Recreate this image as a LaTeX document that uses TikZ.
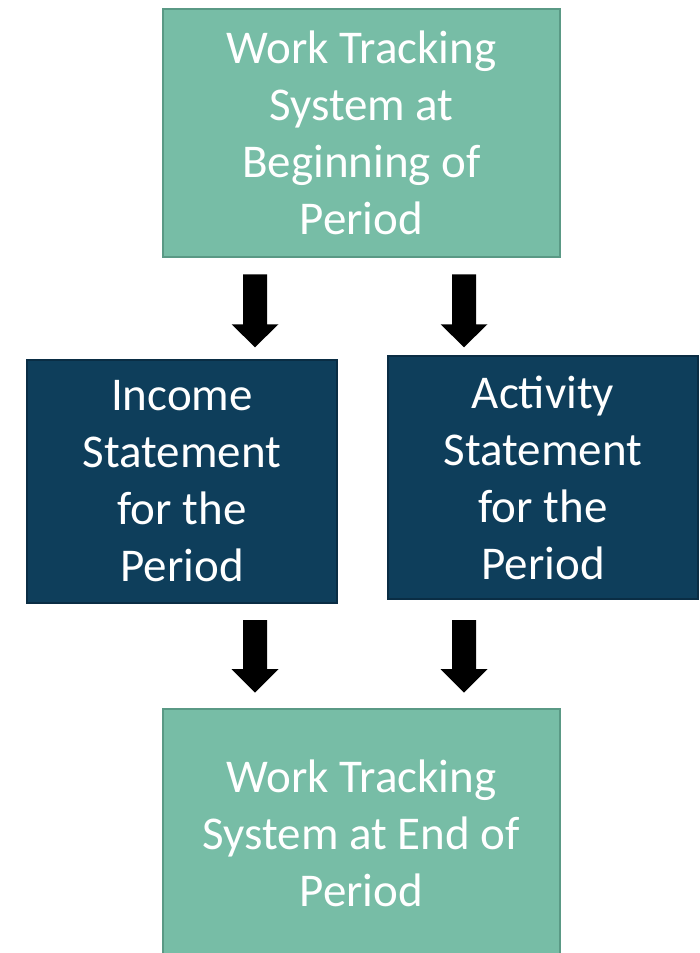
\documentclass[tikz,border=0pt]{standalone}
\usepackage{fontspec}
\setmainfont{Carlito}
\definecolor{tealfill}{HTML}{77BDA6}
\definecolor{tealedge}{HTML}{5A9985}
\definecolor{navyfill}{HTML}{0E3E5B}
\definecolor{navyedge}{HTML}{0A2D44}
\begin{document}
\begin{tikzpicture}[x=1pt,y=1pt,
  boxtext/.style={align=center,text=white,inner sep=0pt,
    font=\fontsize{47}{57}\selectfont},
  tealbox/.style={boxtext,fill=tealfill,draw=tealedge,line width=2.5pt,
    minimum width=397pt,minimum height=248pt},
  navybox/.style={boxtext,fill=navyfill,draw=navyedge,line width=2pt,
    minimum width=310pt,minimum height=243pt},
  blockarrow/.style={fill=black}]
\useasboundingbox (0,0) rectangle (700,-953);
\begin{scope}
\clip (0,0) rectangle (700,-953);
\node[tealbox] (top) at (361.5,-133) {Work Tracking\\System at\\Beginning of\\Period};
\node[navybox] (income) at (182,-481.5) {Income\\Statement\\for the\\Period};
\node[navybox] (activity) at (543,-477.5) {Activity\\Statement\\for the\\Period};
\node[tealbox] (bottom) at (361.5,-833) {Work Tracking\\System at End of\\Period};
\end{scope}
% arrow start points
\coordinate (a1) at ([xshift=-106.5pt,yshift=-16pt]top.south);
\coordinate (a2) at ([xshift=102.5pt,yshift=-16pt]top.south);
\coordinate (a3) at ([xshift=73pt,yshift=-16pt]income.south);
\coordinate (a4) at ([xshift=-79pt,yshift=-20pt]activity.south);
\foreach \a in {a1,a2}{
  \fill[blockarrow] (\a) ++(-12,0) -- ++(24,0) -- ++(0,-50) -- ++(11.5,0)
    -- ++(-23.5,-23) -- ++(-23.5,23) -- ++(11.5,0) -- cycle;
}
\foreach \a in {a3,a4}{
  \fill[blockarrow] (\a) ++(-12,0) -- ++(24,0) -- ++(0,-49) -- ++(11.5,0)
    -- ++(-23.5,-23.5) -- ++(-23.5,23.5) -- ++(11.5,0) -- cycle;
}
\end{tikzpicture}
\end{document}
